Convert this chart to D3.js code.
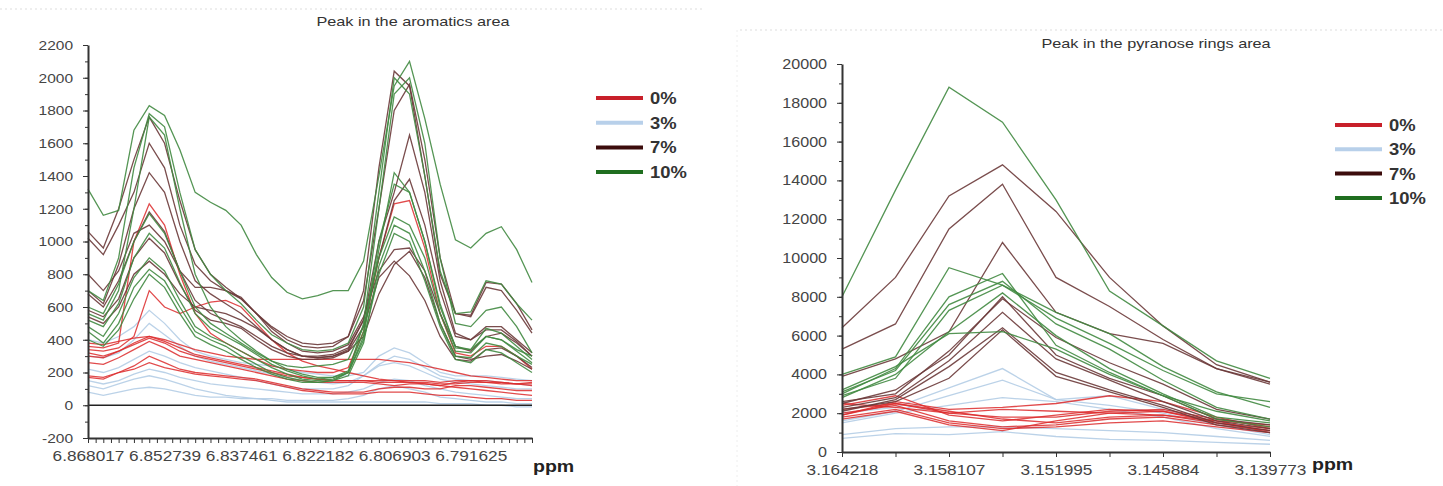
<!DOCTYPE html>
<meta charset="utf-8">
<style>
body { margin: 0; background: #fff; }
svg { display: block; font-family: "Liberation Sans", Arial, sans-serif; }
.axis path, .axis line { stroke: #333; }
.axis text { fill: #444; }
.title { fill: #333; font-size: 13px; }
.legend text { fill: #333; font-size: 16px; font-weight: bold; }
.ppm { fill: #222; font-size: 17px; font-weight: bold; }
</style>
<svg width="1443" height="486"></svg>
<script src="https://d3js.org/d3.v7.min.js"></script>
<script>

// ---------- data ----------
var groups = ["0%", "3%", "7%", "10%"]
var groupColours = ["#dc2a2c", "#b4cde6", "#6b3a3a", "#418a41"]
var legendColours = ["#c8202a", "#b8d0ea", "#3c0c0c", "#1f6e1f"]

// aromatics area: 30 points, labels every 5th point
var aromLabels = ["6.868017", "6.852739", "6.837461", "6.822182", "6.806903", "6.791625"]

var arom0 = [
  [360,350,380,1000,1230,1100,800,560,440,380,330,280,240,220,210,200,200,230,450,900,1230,1250,960,560,320,300,360,360,300,220],
  [380,370,390,410,420,400,370,340,320,300,290,280,280,280,280,280,280,280,280,280,270,260,240,220,200,180,170,160,150,150],
  [300,290,330,380,420,390,350,310,290,270,250,230,210,190,170,160,150,150,150,140,140,140,140,130,130,140,140,130,130,140],
  [260,250,290,340,390,350,300,280,260,240,220,200,180,160,150,140,140,140,140,130,120,130,130,120,140,150,140,140,130,120],
  [180,170,200,240,300,260,220,200,190,180,170,160,140,120,100,90,80,80,80,100,110,110,100,100,120,120,110,100,90,90],
  [340,330,350,420,700,600,560,600,630,640,600,500,400,320,270,240,220,200,180,160,150,140,130,120,110,100,90,80,70,60],
  [170,160,200,220,260,230,210,190,180,170,160,150,130,110,90,80,70,70,70,80,80,80,70,60,60,50,40,40,30,30],
  [320,300,330,370,410,380,330,300,280,260,240,220,200,180,170,160,150,150,150,150,150,150,150,140,150,150,150,140,130,130]
]
var arom3 = [
  [120,100,130,160,180,160,130,100,80,60,50,40,30,20,20,20,20,20,20,20,20,20,20,10,10,10,0,0,-10,-10],
  [80,60,80,100,110,100,80,60,50,50,40,40,40,30,30,30,30,40,60,100,120,100,80,50,40,30,20,20,10,10],
  [400,380,420,480,580,500,400,330,300,280,260,250,240,220,200,190,180,180,200,300,350,320,260,200,180,180,180,170,160,150],
  [300,290,320,400,500,430,360,300,270,250,230,210,190,170,150,140,130,140,180,250,300,280,230,180,160,150,150,140,130,120],
  [220,200,230,280,330,300,260,230,210,190,170,150,130,110,100,100,100,120,180,240,260,240,200,160,140,130,120,110,100,100],
  [150,130,150,190,220,200,170,150,130,120,110,100,90,80,70,70,70,80,100,140,160,150,120,100,80,70,60,50,40,40]
]
var arom7 = [
  [1060,960,1200,1500,1760,1600,1250,950,800,720,650,560,470,400,360,350,360,420,700,1450,2040,1950,1400,800,560,550,750,740,620,460],
  [1020,920,1100,1300,1600,1450,1100,860,760,700,650,560,480,420,380,370,380,420,640,1200,1800,1960,1500,900,560,540,720,700,580,440],
  [700,620,860,1200,1420,1300,1000,760,680,620,560,480,400,340,300,290,300,340,520,1000,1300,1650,1300,760,440,400,480,480,400,320],
  [680,600,760,1000,1180,1060,820,640,560,520,480,420,360,320,300,300,310,350,520,900,1250,1380,1100,700,420,400,460,460,390,300],
  [800,700,820,1050,1100,1000,820,720,720,700,660,560,450,380,330,320,330,370,540,820,950,960,820,560,360,330,420,440,380,300],
  [580,540,650,900,1020,930,740,580,520,500,470,400,340,300,280,280,290,330,480,780,880,790,640,420,280,270,340,350,300,230],
  [540,500,600,800,880,800,680,600,580,560,520,470,400,340,300,290,300,330,420,680,860,940,780,500,300,280,300,310,270,220]
]
var arom10 = [
  [1320,1160,1190,1680,1830,1770,1560,1300,1240,1190,1100,920,780,690,650,670,700,700,880,1400,1950,2100,1750,1350,1010,960,1050,1090,950,750],
  [700,640,900,1450,1780,1700,1300,950,800,700,620,520,430,380,340,330,340,380,600,1300,2000,1900,1400,820,560,570,760,740,620,520],
  [480,420,560,780,900,820,640,480,420,380,330,280,230,190,160,150,160,200,420,950,1420,1300,1000,620,350,340,420,400,340,300],
  [450,380,500,720,830,760,600,450,400,360,300,250,200,170,150,140,150,180,380,850,1100,1050,820,500,300,290,380,360,300,250],
  [400,360,460,650,800,720,560,420,370,330,280,230,190,160,140,140,150,200,400,800,1050,1000,760,480,280,260,340,320,260,200],
  [560,520,700,1200,1760,1650,1200,800,600,480,400,330,270,220,190,170,170,200,500,1200,1900,2000,1600,900,500,480,580,600,480,320],
  [520,480,620,900,1050,960,750,560,470,420,370,310,250,210,180,160,170,210,450,1000,1350,1300,1000,600,360,340,470,440,360,280],
  [600,560,740,1000,1170,1050,820,600,500,440,380,320,270,240,230,240,250,280,480,900,1150,1100,900,560,330,320,420,400,330,260]
]

// pyranose rings area: 9 points, labels every 2nd point
var pyrLabels = ["3.164218", "3.158107", "3.151995", "3.145884", "3.139773"]

var pyr0 = [
  [1900,2600,2200,2300,2500,2900,2600,1800,1200],
  [2400,2900,1900,1600,1900,2200,2100,1600,1000],
  [2000,2400,1600,1300,1400,1700,1800,1400,1100],
  [1800,2200,1500,1200,1300,1500,1600,1300,1000],
  [1700,2100,1400,1100,1600,2000,2100,1500,1200],
  [2200,2500,2000,1800,1800,2100,2200,1700,1300],
  [1900,2500,2100,1700,1500,1800,1900,1500,1100],
  [2500,2300,2000,2200,2100,2000,1900,1600,1400]
]
var pyr3 = [
  [700,950,900,1050,800,650,600,500,400],
  [1600,2100,2900,3700,2700,2900,2200,1500,1000],
  [2000,2300,3300,4300,2700,2400,2000,1400,900],
  [1500,2000,2400,2800,2600,2200,1800,1200,800],
  [900,1200,1300,1300,1200,1100,1000,800,600]
]
var pyr7 = [
  [6400,9000,13200,14800,12400,9000,6500,4500,3600],
  [5300,6600,11500,13800,9000,7500,5800,4300,3500],
  [3900,4800,6200,10800,7200,6100,5600,4300,3600],
  [2500,3200,5000,8000,5000,3800,2900,1700,1400],
  [2300,2800,4700,7200,4800,3700,2600,1600,1200],
  [2100,2700,4400,6400,4100,3200,2400,1500,1100],
  [2200,2600,3800,6300,3900,3100,2300,1400,1000],
  [2600,3000,5200,7900,5900,4600,3500,2200,1700]
]
var pyr10 = [
  [8000,13500,18800,17000,13000,8300,6500,4700,3800],
  [3000,4300,8000,9200,5500,4100,2900,1700,1300],
  [3100,4200,7600,8800,6600,5300,3700,2300,1700],
  [2800,4000,6200,8200,6000,4300,3000,1800,1500],
  [3200,4400,6100,6200,5300,4000,2900,2100,1600],
  [2900,3800,7300,8600,6900,5600,4200,3000,2600],
  [4000,4900,9500,8600,7200,6100,4400,3100,2300]
]

// ---------- drawing ----------
var svg = d3.select("svg")
var stretch = "scale(1.15,1)"

// faint dotted frame lines
svg.append("line").attr("x1", 0).attr("x2", 705).attr("y1", 9).attr("y2", 9)
  .attr("stroke", "#ddd").attr("stroke-dasharray", "2,3")
svg.append("line").attr("x1", 740).attr("x2", 1443).attr("y1", 30).attr("y2", 30)
  .attr("stroke", "#ddd").attr("stroke-dasharray", "2,3")
svg.append("line").attr("x1", 737).attr("x2", 737).attr("y1", 30).attr("y2", 486)
  .attr("stroke", "#eee").attr("stroke-dasharray", "2,3")

function drawPanel(opt) {
  var x = d3.scaleLinear().domain([0, opt.nPts - 1]).range(opt.xRange)
  var y = d3.scaleLinear().domain(opt.yDomain).range(opt.yRange)
  var g = svg.append("g")

  // lines, by group (blue first, then red, 7%, 10%)
  var line = d3.line().x(function (d, i) { return x(i) }).y(function (d) { return y(d) })
  var order = [1, 0, 2, 3]
  order.forEach(function (k) {
    g.append("g").selectAll("path")
      .data(opt.series[k])
      .enter().append("path")
      .attr("d", line)
      .attr("fill", "none")
      .attr("stroke", groupColours[k])
      .attr("stroke-width", 1.3)
      .attr("stroke-opacity", k === 0 ? 0.85 : 0.9)
  })

  // zero line
  if (opt.zeroLine) {
    g.append("line")
      .attr("x1", opt.xRange[0]).attr("x2", opt.xRange[1])
      .attr("y1", y(0)).attr("y2", y(0))
      .attr("stroke", "#222").attr("stroke-width", 1.6)
  }

  // y axis: minor ticks then major with labels
  g.append("g").attr("class", "axis")
    .attr("transform", "translate(" + opt.xRange[0] + ",0)")
    .call(d3.axisLeft(y).tickValues(d3.range(opt.yDomain[0], opt.yDomain[1] + 1, opt.yStep / 2))
      .tickSize(3).tickSizeOuter(0).tickFormat(""))
    .call(function (a) { a.select(".domain").attr("stroke-width", 2) })
  g.append("g").attr("class", "axis")
    .attr("transform", "translate(" + opt.xRange[0] + ",0)")
    .call(d3.axisLeft(y).tickValues(d3.range(opt.yDomain[0], opt.yDomain[1] + 1, opt.yStep))
      .tickSize(5).tickSizeOuter(0).tickPadding(8).tickFormat(function (d) { return String(d) }))
    .call(function (a) {
      a.select(".domain").remove()
      a.selectAll("text").style("font-size", opt.yFont + "px").attr("transform", stretch)
    })

  // x axis at the bottom
  var xTicks = d3.range(0, opt.nPts - 1 + 0.01, opt.tickStep)
  g.append("g").attr("class", "axis")
    .attr("transform", "translate(0," + opt.yRange[0] + ")")
    .call(d3.axisBottom(x).tickValues(xTicks).tickSize(5).tickSizeOuter(0).tickPadding(7)
      .tickFormat(function (d) {
        var k = d / opt.labelEvery
        return Number.isInteger(k) && k < opt.labels.length ? opt.labels[k] : ""
      }))
    .call(function (a) {
      a.select(".domain").attr("stroke-width", 2)
      a.selectAll("text").style("font-size", "15px").attr("transform", stretch)
    })

  // title
  svg.append("text").attr("class", "title")
    .attr("text-anchor", "middle")
    .attr("transform", "translate(" + opt.title[1] + "," + opt.title[2] + ") scale(1.25,1)")
    .text(opt.title[0])

  // ppm
  svg.append("text").attr("class", "ppm")
    .attr("transform", "translate(" + opt.ppm[0] + "," + opt.ppm[1] + ") " + stretch)
    .text("ppm")

  // legend
  var leg = svg.append("g").attr("class", "legend")
  groups.forEach(function (name, i) {
    var ly = opt.legend[1] + i * opt.legend[2]
    leg.append("line")
      .attr("x1", opt.legend[0]).attr("x2", opt.legend[0] + 47)
      .attr("y1", ly).attr("y2", ly)
      .attr("stroke", legendColours[i]).attr("stroke-width", 4)
    leg.append("text")
      .attr("transform", "translate(" + (opt.legend[0] + 54) + "," + (ly + 6) + ") " + stretch)
      .text(name)
  })
}

drawPanel({
  series: [arom0, arom3, arom7, arom10],
  nPts: 30, xRange: [88, 532],
  yDomain: [-200, 2200], yRange: [438, 45], yStep: 200, yFont: 13.5,
  tickStep: 0.5, labelEvery: 5, labels: aromLabels,
  zeroLine: true,
  title: ["Peak in the aromatics area", 413, 26],
  ppm: [533, 472],
  legend: [596, 98, 24.7]
})

drawPanel({
  series: [pyr0, pyr3, pyr7, pyr10],
  nPts: 9, xRange: [842, 1270],
  yDomain: [0, 20000], yRange: [452, 64], yStep: 2000, yFont: 14,
  tickStep: 1, labelEvery: 2, labels: pyrLabels,
  zeroLine: false,
  title: ["Peak in the pyranose rings area", 1156, 48],
  ppm: [1312, 470],
  legend: [1335, 125, 24.3]
})
</script>
